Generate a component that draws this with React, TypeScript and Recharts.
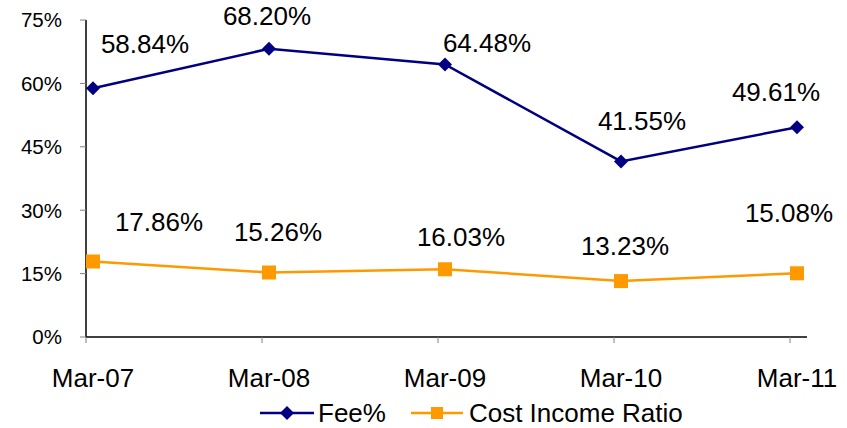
import { LineChart, Line, XAxis, YAxis, Legend, LabelList } from "recharts";

const periods = ["Mar-07", "Mar-08", "Mar-09", "Mar-10", "Mar-11"];
const feePct = [58.84, 68.2, 64.48, 41.55, 49.61];
const costIncomeRatio = [17.86, 15.26, 16.03, 13.23, 15.08];
const yTicks = [0, 15, 30, 45, 60, 75];

// hand-placed label nudges (dx, dy from the point)
const feeLabelShift = [[52, -45], [-2, -33], [42, -22], [21, -41], [-21, -36]];
const costLabelShift = [[66, -40], [9, -41], [16, -33], [4, -35], [-8, -61]];

const NAVY = "#000080";
const ORANGE = "#FF9900";
const FONT = "'Liberation Sans', Arial, sans-serif";

const data = periods.map((p, i) => ({
  period: p,
  fee: feePct[i],
  cost: costIncomeRatio[i],
}));

const Diamond = ({ cx, cy }: any) =>
  cx == null ? null : (
    <path d={`M${cx},${cy - 7}L${cx + 7},${cy}L${cx},${cy + 7}L${cx - 7},${cy}Z`} fill={NAVY} />
  );

const Square = ({ cx, cy }: any) =>
  cx == null ? null : <rect x={cx - 7} y={cy - 7} width={14} height={14} fill={ORANGE} />;

const makeLabel = (shift: number[][]) => (props: any) => {
  const { x, y, value, index } = props;
  const [dx, dy] = shift[index];
  return (
    <text x={x + dx} y={y + dy} dy="0.36em" textAnchor="middle" fontSize={26} fontFamily={FONT} fill="#000">
      {value.toFixed(2)}%
    </text>
  );
};

const PeriodTick = ({ x, y, payload }: any) => (
  <g>
    <line x1={x - 7} x2={x - 7} y1={y - 6} y2={y} stroke="#808080" strokeWidth={1} />
    <text x={x} y={y + 44} textAnchor="middle" fontSize={26} fontFamily={FONT} fill="#000">
      {payload.value}
    </text>
  </g>
);

const PercentTick = ({ x, y, payload }: any) => (
  <text x={x} y={y} dy="0.36em" textAnchor="end" fontSize={20.5} fontFamily={FONT} fill="#000">
    {payload.value}%
  </text>
);

const LegendBox = () => (
  <div style={{ display: "flex", alignItems: "center", fontFamily: FONT, fontSize: 26, color: "#000", lineHeight: "30px" }}>
    <svg width={54} height={16}>
      <line x1={0} x2={54} y1={8} y2={8} stroke={NAVY} strokeWidth={2.5} />
      <path d="M27,1L34,8L27,15L20,8Z" fill={NAVY} />
    </svg>
    <span style={{ marginLeft: 4, marginRight: 25 }}>Fee%</span>
    <svg width={52} height={16}>
      <line x1={0} x2={52} y1={8} y2={8} stroke={ORANGE} strokeWidth={2.5} />
      <rect x={20} y={2} width={12} height={12} fill={ORANGE} />
    </svg>
    <span style={{ marginLeft: 6 }}>Cost Income Ratio</span>
  </div>
);

export default function App() {
  return (
    <div style={{ position: "absolute", left: 0, top: 0, background: "#fff" }}>
      <LineChart width={847} height={428} data={data} margin={{ top: 20, right: 40, bottom: 0, left: 0 }}>
        <XAxis
          dataKey="period"
          padding={{ left: 7, right: 10 }}
          height={91}
          axisLine={{ stroke: "#000", strokeWidth: 1.5 }}
          tickLine={false}
          tickSize={6}
          tickMargin={0}
          tick={<PeriodTick />}
          interval={0}
        />
        <YAxis
          domain={[0, 75]}
          ticks={yTicks}
          width={86}
          axisLine={{ stroke: "#000", strokeWidth: 1.5 }}
          tickLine={{ stroke: "#808080" }}
          tickSize={6}
          tickMargin={18}
          tick={<PercentTick />}
        />
        <Legend
          layout="horizontal"
          verticalAlign="middle"
          align="center"
          content={<LegendBox />}
          wrapperStyle={{ left: 260, top: 398, width: 480, height: 30 }}
        />
        <Line
          dataKey="fee"
          name="Fee%"
          stroke={NAVY}
          strokeWidth={2.5}
          dot={<Diamond />}
          activeDot={false}
          isAnimationActive={false}
        >
          <LabelList dataKey="fee" content={makeLabel(feeLabelShift)} />
        </Line>
        <Line
          dataKey="cost"
          name="Cost Income Ratio"
          stroke={ORANGE}
          strokeWidth={2.5}
          dot={<Square />}
          activeDot={false}
          isAnimationActive={false}
        >
          <LabelList dataKey="cost" content={makeLabel(costLabelShift)} />
        </Line>
      </LineChart>
    </div>
  );
}
